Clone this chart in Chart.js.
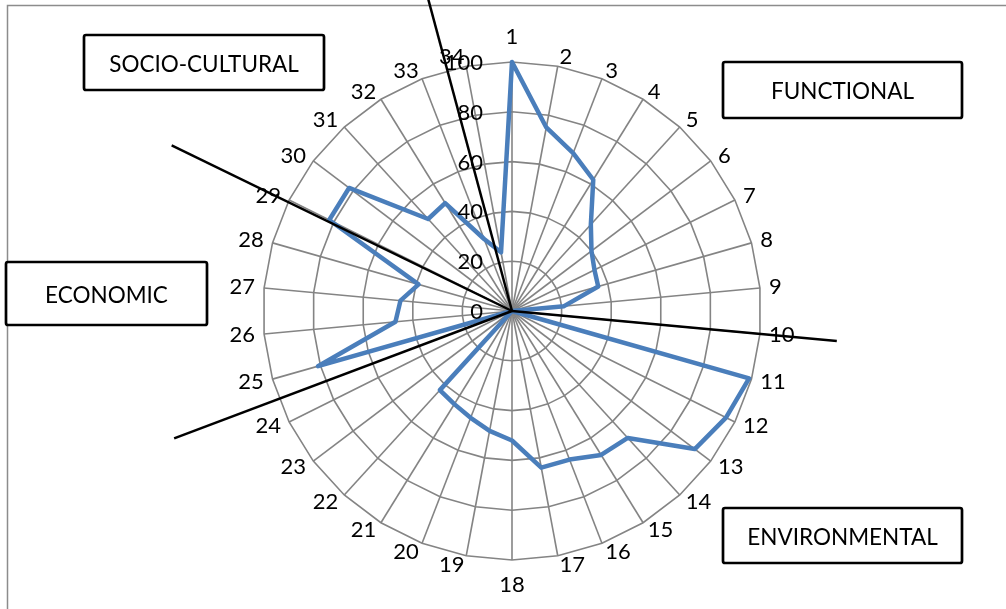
<!DOCTYPE html>
<html><head><meta charset="utf-8">
<script src="https://cdn.jsdelivr.net/npm/chart.js@4.4.1/dist/chart.umd.min.js"></script>
<style>html,body{margin:0;padding:0;background:#fff}#wrap{width:1006px;height:609px;position:relative}</style>
</head><body><div id="wrap"><canvas id="c" width="1006" height="609"></canvas></div>
<script>
// ---- data ----
const categories = ['1','2','3','4','5','6','7','8','9','10','11','12','13','14','15','16','17',
  '18','19','20','21','22','23','24','25','26','27','28','29','30','31','32','33','34'];
const values = [100,75,68,62,47,40,37,36,21,0,99,96,92,69,68,64,64,52,49,46,44,43,0,0,81,47,45,39,82,82,50,51,31,24];
const tickValues = [0,20,40,60,80,100];
const sectorNames = ['SOCIO-CULTURAL','FUNCTIONAL','ECONOMIC','ENVIRONMENTAL'];

// ---- annotation layout (drawn shapes) ----
const boxes = [
  {x:84, y:35, w:240, h:55},
  {x:723, y:62, w:239, h:56},
  {x:6, y:262, w:201, h:63},
  {x:723, y:508, w:239, h:55}
];
const rays = [ {idx:32.58, k:1.35}, {idx:27.95, k:1.52}, {idx:23.55, k:1.45}, {idx:9.0, k:1.31} ];

const FONT = 'Lato, "Liberation Sans", sans-serif';
const NUM_SIZE = 22, BOX_SIZE = 22.5;

const overlay = {
  id:'overlay',
  beforeDraw(chart){
    const ctx = chart.ctx; ctx.save();
    ctx.fillStyle = '#fff'; ctx.fillRect(0,0,chart.width,chart.height);
    ctx.strokeStyle = '#8c8c8c'; ctx.lineWidth = 1.5;
    ctx.strokeRect(7.5,5.5,1200,800);
    ctx.restore();
  },
  afterDatasetsDraw(chart){
    const ctx = chart.ctx, s = chart.scales.r;
    const R = s.drawingArea;
    ctx.save();
    ctx.fillStyle = '#000';
    ctx.font = NUM_SIZE + 'px ' + FONT;
    // value tick labels, left of vertical axis
    ctx.textAlign = 'right'; ctx.textBaseline = 'middle';
    tickValues.forEach(v => {
      const d = s.getDistanceFromCenterForValue(v);
      ctx.fillText(String(v), s.xCenter - 29, s.yCenter - d + 1);
    });
    // category labels
    categories.forEach((lab, i) => {
      const a = s.getIndexAngle(i);
      const sn = Math.sin(a);
      if (Math.abs(sn) < 0.02) {
        const p = s.getPointPosition(i, R + 25);
        ctx.textAlign = 'center'; ctx.fillText(lab, p.x, p.y);
      } else {
        const p = s.getPointPosition(i, R + 9);
        ctx.textAlign = sn > 0 ? 'left' : 'right';
        ctx.fillText(lab, p.x, p.y);
      }
    });
    ctx.restore();
  },
  afterDraw(chart){
    const ctx = chart.ctx, s = chart.scales.r;
    const R = s.drawingArea;
    ctx.save();
    ctx.strokeStyle = '#000'; ctx.lineWidth = 2.5; ctx.lineCap = 'butt';
    rays.forEach(r => {
      const p = s.getPointPosition(r.idx, R * r.k);
      ctx.beginPath(); ctx.moveTo(s.xCenter, s.yCenter); ctx.lineTo(p.x, p.y); ctx.stroke();
    });
    ctx.font = BOX_SIZE + 'px ' + FONT;
    ctx.textAlign = 'center'; ctx.textBaseline = 'middle';
    boxes.forEach((b, i) => {
      ctx.beginPath();
      if (ctx.roundRect) ctx.roundRect(b.x, b.y, b.w, b.h, 2); else ctx.rect(b.x, b.y, b.w, b.h);
      ctx.fillStyle = '#fff'; ctx.fill();
      ctx.lineWidth = 2.7; ctx.strokeStyle = '#000'; ctx.stroke();
      ctx.fillStyle = '#000';
      ctx.fillText(sectorNames[i], b.x + b.w/2, b.y + b.h/2 + 2);
    });
    ctx.restore();
  }
};

new Chart(document.getElementById('c'), {
  type: 'radar',
  data: {
    labels: categories,
    datasets: [{
      label: 'Score',
      data: values,
      borderColor: '#4A7EBB',
      borderWidth: 4.5,
      borderJoinStyle: 'round',
      fill: false,
      pointRadius: 0,
      pointHoverRadius: 0,
      tension: 0
    }]
  },
  options: {
    responsive: false,
    animation: false,
    events: [],
    layout: { padding: { left: 30, right: 12, top: 62, bottom: 49 } },
    plugins: { legend: { display: false }, tooltip: { enabled: false } },
    scales: {
      r: {
        min: 0, max: 100,
        ticks: { stepSize: 20, display: false },
        grid: { color: '#848484', lineWidth: 1.6 },
        angleLines: { color: '#848484', lineWidth: 1.6 },
        pointLabels: { display: false }
      }
    }
  },
  plugins: [overlay]
});
</script>
</body></html>
